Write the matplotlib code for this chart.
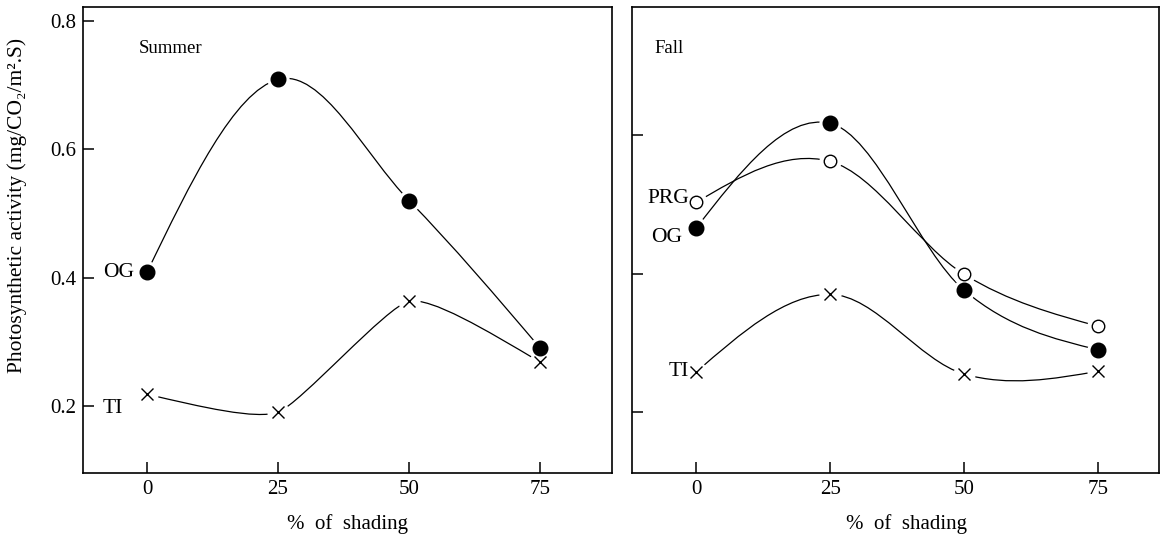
import numpy as np
import matplotlib
matplotlib.use("Agg")
import matplotlib.pyplot as plt
from matplotlib.path import Path
from matplotlib.patches import PathPatch

plt.rcParams['font.family'] = ['Liberation Serif', 'DejaVu Serif']

# values
shading = [0, 25, 50, 75]

summer_og = [0.408, 0.709, 0.520, 0.290]
summer_ti = [0.218, 0.190, 0.363, 0.268]

fall_prg = [0.503, 0.562, 0.399, 0.324]
fall_og = [0.466, 0.617, 0.376, 0.290]
fall_ti = [0.258, 0.370, 0.255, 0.259]

x_ticks = [0, 25, 50, 75]
y_ticks_left = [0.2, 0.4, 0.6, 0.8]
y_ticks_right = [0.2, 0.4, 0.6]


def smooth_curve(x, y, tension=0.0):
    # cardinal spline through the points, drawn as cubic bezier segments
    pts = np.column_stack([x, y]).astype(float)
    n = len(pts)
    m = np.zeros_like(pts)
    for i in range(1, n - 1):
        m[i] = (1 - tension) * (pts[i + 1] - pts[i - 1]) / 2
    m[0] = (3 * (pts[1] - pts[0]) - m[1]) / 2
    m[-1] = (3 * (pts[-1] - pts[-2]) - m[-2]) / 2
    verts = [pts[0]]
    codes = [Path.MOVETO]
    for i in range(n - 1):
        verts += [pts[i] + m[i] / 3, pts[i + 1] - m[i + 1] / 3, pts[i + 1]]
        codes += [Path.CURVE4] * 3
    return Path(verts, codes)


def draw_series(ax, x, y, marker, tension=0.0):
    ax.add_patch(PathPatch(smooth_curve(x, y, tension), fill=False, lw=0.9,
                           edgecolor='black', zorder=2))
    # white halo leaves the small gap round each point
    ax.plot(x, y, 'o', ms=16, color='white', mec='none', zorder=3)
    if marker == 'filled':
        ax.plot(x, y, 'o', ms=10.5, color='black', zorder=4)
    elif marker == 'open':
        ax.plot(x, y, 'o', ms=9, mfc='white', mec='black', mew=1.0, zorder=4)
    else:
        ax.plot(x, y, 'x', ms=8.5, color='black', mew=1.0, zorder=4)


fig = plt.figure(figsize=(11.61, 5.4), dpi=100)
ax1 = fig.add_axes([0.0715, 0.124, 0.4556, 0.863])
ax2 = fig.add_axes([0.5444, 0.124, 0.4539, 0.863])

# Summer
draw_series(ax1, shading, summer_og, 'filled')
draw_series(ax1, shading, summer_ti, 'cross', tension=0.5)
ax1.set_xlim(-12.2, 88.7)
ax1.set_ylim(0.095, 0.822)
ax1.set_yticks(y_ticks_left)
ax1.set_yticklabels(['0.2', '0.4', '0.6', '0.8'])
ax1.text(0.105, 0.912, 'Summer', transform=ax1.transAxes, fontsize=13.5,
         va='center', ha='left')
ax1.annotate('OG', (shading[0], summer_og[0]), xytext=(-9, 0),
             textcoords='offset points', ha='right', va='center', fontsize=15.5)
ax1.annotate('TI', (shading[0], summer_ti[0]), xytext=(-17, -10),
             textcoords='offset points', ha='right', va='center', fontsize=15.5)
ax1.set_ylabel('Photosynthetic activity (mg/CO₂/m².S)', fontsize=15.5)
ax1.yaxis.set_label_coords(-0.106, 0.575)

# Fall
draw_series(ax2, shading, fall_prg, 'open')
draw_series(ax2, shading, fall_og, 'filled')
draw_series(ax2, shading, fall_ti, 'cross')
ax2.set_xlim(-12, 86.4)
ax2.set_ylim(0.112, 0.785)
ax2.set_yticks(y_ticks_right)
ax2.set_yticklabels([])
ax2.text(0.043, 0.912, 'Fall', transform=ax2.transAxes, fontsize=13.5,
         va='center', ha='left')
ax2.annotate('PRG', (shading[0], fall_prg[0]), xytext=(-5, 3),
             textcoords='offset points', ha='right', va='center', fontsize=15.5)
ax2.annotate('OG', (shading[0], fall_og[0]), xytext=(-10, -7),
             textcoords='offset points', ha='right', va='center', fontsize=15.5)
ax2.annotate('TI', (shading[0], fall_ti[0]), xytext=(-5, 0),
             textcoords='offset points', ha='right', va='center', fontsize=15.5)

for ax in (ax1, ax2):
    ax.set_xticks(x_ticks)
    ax.set_xticklabels([str(v) for v in x_ticks])
    ax.tick_params(direction='in', length=8, width=1.1, labelsize=15, pad=5)
    ax.set_xlabel('%  of  shading', fontsize=15)
    for s in ax.spines.values():
        s.set_linewidth(1.2)
ax1.xaxis.set_label_coords(0.5, -0.088)
ax2.xaxis.set_label_coords(0.52, -0.088)

fig.savefig('out.png', dpi=100)
